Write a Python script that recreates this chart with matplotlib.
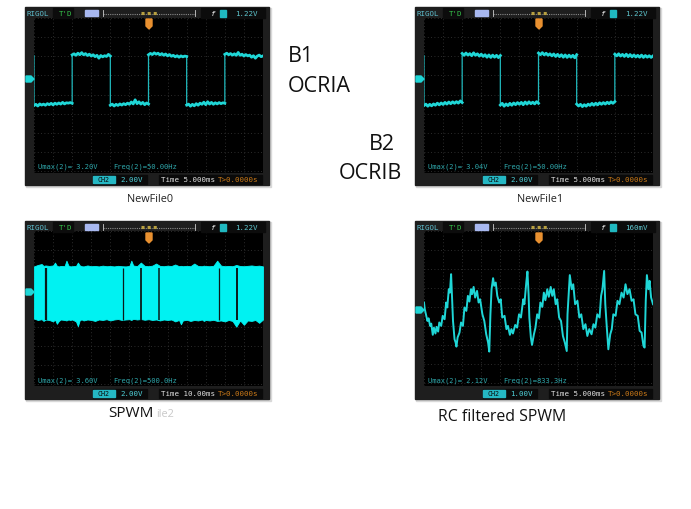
import matplotlib
matplotlib.use("Agg")
import matplotlib.pyplot as plt
from matplotlib.patches import Rectangle, Polygon

W = 691
H = 510

# square wave levels in volts, one list per half period, 0.5 ms between samples
b1_edges = [-30, -20, -10, 0, 10, 20]
b1_levels = [
    [-2.75, -2.62, -2.8, -2.58, -2.7, -2.6, -2.72, -2.55, -2.66, -2.52, -2.68, -2.5, -2.62, -2.48, -2.6, -2.42, -2.58, -2.46, -2.5, -2.44, -2.52],
    [2.55, 2.66, 2.5, 2.72, 2.56, 2.78, 2.55, 2.68, 2.48, 2.62, 2.42, 2.56, 2.36, 2.5, 2.2, 2.48, 2.34, 2.46, 2.38, 2.6, 2.42],
    [-2.72, -2.6, -2.8, -2.62, -2.74, -2.58, -2.7, -2.55, -2.66, -2.5, -2.62, -2.38, -2.58, -2.15, -2.55, -2.36, -2.6, -2.42, -2.66, -2.48, -2.6],
    [2.56, 2.7, 2.58, 2.76, 2.62, 2.72, 2.54, 2.68, 2.5, 2.64, 2.44, 2.58, 2.4, 2.5, 2.34, 2.46, 2.3, 2.44, 2.34, 2.42, 2.38],
    [-2.7, -2.6, -2.82, -2.62, -2.78, -2.55, -2.72, -2.5, -2.62, -2.4, -2.66, -2.35, -2.6, -2.42, -2.62, -2.46, -2.58, -2.44, -2.55, -2.46, -2.52],
    [2.6, 2.72, 2.56, 2.68, 2.52, 2.66, 2.5, 2.8, 2.5, 2.62, 2.42, 2.58, 2.44, 2.52, 2.3, 2.46, 2.2, 2.42, 2.52, 2.36, 2.44],
]
b2_edges = [-30, -20, -10, 0, 10, 20]
b2_levels = [
    [-2.75, -2.6, -2.82, -2.62, -2.78, -2.58, -2.72, -2.5, -2.68, -2.48, -2.64, -2.42, -2.6, -2.38, -2.56, -2.36, -2.52, -2.34, -2.5, -2.26, -2.44],
    [2.7, 2.5, 2.74, 2.52, 2.68, 2.46, 2.76, 2.5, 2.66, 2.42, 2.62, 2.38, 2.56, 2.3, 2.54, 2.28, 2.52, 2.3, 2.5, 2.26, 2.48],
    [-2.7, -2.52, -2.82, -2.58, -2.76, -2.52, -2.72, -2.48, -2.66, -2.44, -2.62, -2.42, -2.66, -2.38, -2.6, -2.36, -2.56, -2.4, -2.58, -2.34, -2.52],
    [2.74, 2.56, 2.78, 2.54, 2.72, 2.5, 2.66, 2.44, 2.64, 2.38, 2.6, 2.36, 2.56, 2.3, 2.54, 2.28, 2.52, 2.3, 2.5, 2.24, 2.56],
    [-2.6, -2.8, -2.62, -2.86, -2.66, -2.82, -2.6, -2.74, -2.52, -2.72, -2.5, -2.68, -2.46, -2.62, -2.44, -2.6, -2.4, -2.56, -2.36, -2.52, -2.34],
    [2.62, 2.44, 2.66, 2.42, 2.6, 2.38, 2.62, 2.36, 2.58, 2.34, 2.54, 2.32, 2.5, 2.3, 2.52, 2.28, 2.48, 2.3, 2.46, 2.28, 2.44],
]

# SPWM envelope (ms, volts) and the places where the carrier drops out
spwm_time = [-60, -58, -56, -55, -54, -52, -50, -49, -48, -47, -46, -44, -43, -42, -41, -40, -38, -37, -36, -35, -34, -32, -30, -28, -26, -24, -22, -20, -18, -16, -14, -12, -10, -9, -8, -6, -4, -2, 0, 2, 4, 6, 8, 10, 12, 14, 16, 17, 18, 20, 22, 24, 26, 28, 29, 30, 32, 34, 36, 38, 40, 42, 44, 46, 48, 50, 52, 54, 56, 58, 60]
spwm_top = [2.7, 2.85, 2.95, 2.75, 2.8, 2.75, 2.8, 3.1, 2.75, 2.7, 2.75, 2.72, 3.3, 2.8, 2.7, 2.72, 2.75, 3.1, 2.8, 2.72, 2.7, 2.8, 2.72, 2.75, 2.7, 2.78, 2.72, 2.74, 2.7, 2.76, 2.72, 2.7, 2.75, 3.3, 2.8, 2.72, 3.1, 2.75, 2.72, 2.78, 3.0, 2.75, 2.72, 2.78, 2.74, 2.9, 2.72, 2.76, 2.72, 2.76, 2.72, 3.0, 2.74, 2.72, 2.78, 2.74, 2.72, 2.76, 3.3, 2.78, 2.72, 2.75, 2.72, 2.85, 2.74, 2.72, 2.76, 2.8, 2.74, 2.78, 2.7]
spwm_bottom = [-2.75, -2.9, -2.82, -3.0, -2.85, -2.9, -3.05, -2.85, -3.3, -3.0, -2.85, -2.9, -2.95, -2.85, -2.9, -2.85, -3.05, -3.55, -2.9, -2.85, -2.95, -2.85, -2.9, -3.0, -2.85, -2.9, -2.82, -2.95, -2.85, -2.8, -2.9, -2.85, -2.82, -2.9, -2.78, -2.85, -2.8, -2.88, -2.82, -2.9, -2.85, -2.95, -2.85, -2.9, -2.85, -3.05, -2.9, -3.35, -2.95, -2.88, -3.0, -2.9, -2.95, -2.85, -3.0, -2.9, -2.95, -2.88, -3.0, -2.95, -3.05, -2.9, -3.0, -3.6, -2.95, -3.4, -2.95, -3.0, -2.9, -3.2, -2.85]
spwm_gaps = [-53.8, -13.3, -4.0, 5.6, 36.7, 46.3]
spwm_gap_widths = [1.6, 0.9, 1.3, 1.1, 0.9, 1.4]

# RC filtered trace (ms, volts)
rc_time = [-30.0, -29.8, -29.5, -29.1, -28.8, -28.4, -28.1, -27.7, -27.4, -27.0, -26.7, -26.3, -26.0, -25.5, -25.1, -24.6, -24.2, -23.9, -23.5, -23.2, -22.9, -22.6, -22.4, -22.0, -21.7, -21.5, -21.2, -20.7, -20.3, -19.8, -19.4, -18.9, -18.5, -18.1, -17.7, -17.4, -17.0, -16.6, -16.1, -15.7, -15.3, -14.7, -14.2, -13.7, -13.2, -12.9, -12.6, -12.3, -11.9, -11.6, -11.2, -10.8, -10.3, -9.9, -9.5, -8.9, -8.4, -8.0, -7.5, -7.1, -6.7, -6.1, -5.6, -5.1, -4.6, -4.0, -3.7, -3.2, -2.9, -2.6, -2.4, -2.0, -1.7, -1.2, -0.8, -0.35, 0.1, 0.5, 1.0, 1.4, 1.8, 2.3, 2.7, 3.2, 3.6, 4.0, 4.5, 4.9, 5.4, 5.9, 6.4, 6.9, 7.4, 7.6, 8.0, 8.2, 8.7, 9.1, 9.6, 10.2, 10.7, 11.2, 11.75, 12.3, 12.8, 13.3, 13.9, 14.4, 14.9, 15.4, 16.0, 16.4, 16.75, 17.2, 17.5, 17.9, 18.3, 18.8, 19.2, 19.6, 20.2, 20.7, 21.2, 21.75, 22.3, 22.8, 23.3, 23.85, 24.4, 24.9, 25.4, 26.0, 26.5, 27.0, 27.5, 27.8, 28.1, 28.4, 28.8, 29.1, 29.5, 30.0]
rc_volts = [0.44, 0.09, -0.18, -0.53, -0.39, -0.79, -0.67, -1.26, -0.88, -1.19, -0.84, -1.09, -0.61, -0.79, -0.26, -0.44, 0.44, 0.18, 1.14, 0.96, 1.93, 0.53, -0.53, -1.49, -1.67, -1.88, -1.4, -1.14, -0.61, -0.79, 0.18, 0.0, 0.79, 0.49, 1.14, 0.88, 1.26, 0.7, 1.05, 0.44, 0.61, -0.18, -0.53, -1.23, -1.67, -2.14, -0.18, 1.14, 1.72, 1.32, 1.49, 0.79, 0.44, 0.61, -0.35, -0.26, -0.96, -0.79, -1.26, -0.96, -1.19, -0.74, -0.88, -0.18, -0.35, 0.61, 0.35, 1.49, 2.07, 0.88, -0.35, -1.4, -1.79, -1.23, -0.88, -0.18, -0.39, 0.44, 0.21, 0.96, 0.56, 1.14, 0.74, 1.26, 0.79, 1.14, 0.35, 0.61, -0.35, -0.53, -1.32, -1.67, -2.11, -0.18, 1.23, 1.88, 1.14, 1.4, 0.35, 0.53, -0.35, -0.18, -0.96, -0.7, -1.32, -0.96, -1.23, -0.7, -0.88, -0.18, -0.35, 0.79, 1.14, 2.1, 0.35, -0.88, -2.02, -1.23, -0.96, -0.18, -0.26, 0.53, 0.35, 0.96, 0.7, 1.4, 0.88, 1.14, 0.53, 0.61, -0.18, -0.26, -1.05, -1.14, -1.84, -1.93, 0.53, 1.88, 1.14, 1.58, 0.7, 0.35]

CYAN = "#1fd6d6"
FILL = "#00f2f2"
READOUT = "#2fa8ac"


def add_screen(left, top, xlim, ylim, tick):
    # scope graticule, 229x155 px of the picture
    ax = fig.add_axes([left / W, 1 - (top + 155) / H, 229 / W, 155 / H], zorder=3)
    ax.set_facecolor("black")
    ax.set_xlim(xlim)
    ax.set_ylim(ylim)
    step_x, step_y = tick
    ax.set_xticks([xlim[0] + i * step_x for i in range(13)])
    ax.set_yticks([ylim[1] - i * step_y for i in range(9)])
    ax.grid(True, color="#3a3a3a", linestyle=(0, (1, 3)), linewidth=0.6)
    ax.tick_params(length=0, labelbottom=False, labelleft=False)
    for s in ax.spines.values():
        s.set_visible(False)
    ax.set_axisbelow(True)
    return ax


def square_trace(ax, edges, levels):
    t = [edges[0]]
    v = [2.45]
    for start, seg in zip(edges, levels):
        for i, val in enumerate(seg):
            t.append(start + i * 0.5)
            v.append(val)
    # thin edges, thicker noisy flat parts
    ax.plot(t, v, color="#20b8bc", linewidth=0.9)
    for start, seg in zip(edges, levels):
        ax.plot([start + i * 0.5 for i in range(len(seg))], seg, color=CYAN, linewidth=2.0)


def add_bezel(x, y):
    # the bezel is 244x178 px, with a soft shadow under it
    back.add_patch(Rectangle((x + 1, y + 1), 245, 179, color="#d8d8d8"))
    back.add_patch(Rectangle((x, y), 244, 178, color="#1e1e1e"))


def add_chrome(x, y, top_right, vmax, freq, volts, tb, ground_y):
    mono = dict(family="DejaVu Sans Mono", va="center", zorder=5)
    canvas.add_patch(Rectangle((x + 28, y + 1), 20, 10, color="#0c0c0c", zorder=2))
    canvas.add_patch(Rectangle((x + 176, y + 1), 64, 10, color="#0c0c0c", zorder=2))
    canvas.text(x + 2, y + 6, "RIGOL", color="#5fc0d0", fontsize=5.4, **mono)
    canvas.text(x + 34, y + 6, "T'D", color="#35c24a", fontsize=5.4, **mono)
    canvas.add_patch(Rectangle((x + 60, y + 3), 13, 5.5, color="#a8b8f0", zorder=3))
    canvas.plot([x + 78, x + 170], [y + 6.5, y + 6.5], color="#8a8a8a", linewidth=0.8, linestyle=(0, (1, 1)), zorder=3)
    canvas.plot([x + 78, x + 78], [y + 3, y + 9], color="#cccccc", linewidth=0.6, zorder=3)
    canvas.plot([x + 170, x + 170], [y + 3, y + 9], color="#cccccc", linewidth=0.6, zorder=3)
    canvas.plot([x + 116, x + 132], [y + 6, y + 6], color="#b8a040", linewidth=2.2, linestyle=(0, (1, 1)), zorder=3)
    canvas.text(x + 185, y + 6, "f", color="white", fontsize=5.4, style="italic", **mono)
    canvas.add_patch(Rectangle((x + 195, y + 3), 6, 6.5, color="#20b8c0", zorder=3))
    canvas.text(x + 233, y + 6, top_right, color="#5fc8d0", fontsize=5.4, ha="right", **mono)
    # trigger marker
    canvas.add_patch(Polygon([(x + 121, y + 12), (x + 127, y + 12), (x + 127, y + 19), (x + 124, y + 22), (x + 121, y + 19)], color="#e89030", zorder=6))
    # ground marker
    canvas.add_patch(Polygon([(x + 1, ground_y - 3), (x + 6, ground_y - 3), (x + 9, ground_y), (x + 6, ground_y + 3), (x + 1, ground_y + 3)], color=CYAN, zorder=6))
    # readouts
    canvas.text(x + 13, y + 159, "Umax(2)= " + vmax, color=READOUT, fontsize=5.1, **mono)
    canvas.text(x + 88, y + 159, "Freq(2)=" + freq, color=READOUT, fontsize=5.1, **mono)
    canvas.add_patch(Rectangle((x + 68, y + 168), 54, 9, color="#0a0a0a", zorder=2))
    canvas.add_patch(Rectangle((x + 68, y + 169), 22, 6.5, color="#25b8c4", zorder=3))
    canvas.text(x + 79, y + 172, "CH2", color="#0a0a0a", fontsize=4.8, ha="center", **mono)
    canvas.text(x + 95, y + 172, volts, color="#4fd0d8", fontsize=5.4, **mono)
    canvas.add_patch(Rectangle((x + 134, y + 168), 103, 9, color="#0a0a0a", zorder=2))
    canvas.text(x + 136, y + 172, "Time " + tb, color="#e0e0e0", fontsize=5.4, **mono)
    canvas.text(x + 193, y + 172, "T>0.0000s", color="#c87818", fontsize=5.4, **mono)


fig = plt.figure(figsize=(W / 100, H / 100), dpi=100, facecolor="white")
back = fig.add_axes([0, 0, 1, 1], zorder=1)
back.set_xlim(0, W)
back.set_ylim(H, 0)
back.axis("off")
canvas = fig.add_axes([0, 0, 1, 1], zorder=5)
canvas.set_xlim(0, W)
canvas.set_ylim(H, 0)
canvas.axis("off")

for bx, by in [(25, 8), (415, 8), (25, 222), (415, 222)]:
    add_bezel(bx, by)

add_chrome(25, 8, "1.22V", "3.20V", "50.00Hz", "2.00V", "5.000ms", 80)
add_chrome(415, 8, "1.22V", "3.04V", "50.00Hz", "2.00V", "5.000ms", 80)
add_chrome(25, 222, "1.22V", "3.60V", "500.0Hz", "2.00V", "10.00ms", 293)
add_chrome(415, 222, "160mV", "2.12V", "833.3Hz", "1.00V", "5.000ms", 311)

ax1 = add_screen(34, 19, (-30, 30), (-9.8, 6.4), (5, 2))
square_trace(ax1, b1_edges, b1_levels)

ax2 = add_screen(424, 19, (-30, 30), (-9.8, 6.4), (5, 2))
square_trace(ax2, b2_edges, b2_levels)

ax3 = add_screen(34, 232, (-60, 60), (-9.8, 6.4), (10, 2))
ax3.fill_between(spwm_time, spwm_bottom, spwm_top, color=FILL, linewidth=0.6)
ax3.vlines(spwm_gaps, -2.9, 2.5, color="#0a1a1a", linewidth=spwm_gap_widths)

ax4 = add_screen(424, 232, (-30, 30), (-3.95, 4.2), (5, 1))
ax4.plot(rc_time, rc_volts, color=CYAN, linewidth=1.4)

# handwritten notes
note = dict(family="Open Sans", color="#111111", va="center", zorder=8)
canvas.text(288, 57, "B1", fontsize=15.5, **note)
canvas.text(288, 87, "OCRIA", fontsize=15.5, **note)
canvas.text(369, 145, "B2", fontsize=15.5, **note)
canvas.text(339, 174, "OCRIB", fontsize=15.5, **note)

canvas.text(150, 200, "NewFile0", family="Open Sans", fontsize=7.8, color="#222222", ha="center", va="center")
canvas.text(540, 200, "NewFile1", family="Open Sans", fontsize=7.8, color="#222222", ha="center", va="center")
canvas.text(165, 415, "ile2", family="Open Sans", fontsize=7.8, color="#c8c8c8", ha="center", va="center")
canvas.text(108, 414, "SPWM", family="Open Sans", fontsize=11, color="#111111", va="center", zorder=8)
canvas.text(438, 417, "RC filtered SPWM", family="Open Sans", fontsize=11.4, color="#111111", va="center", zorder=8)

fig.savefig("out.png", dpi=100)
